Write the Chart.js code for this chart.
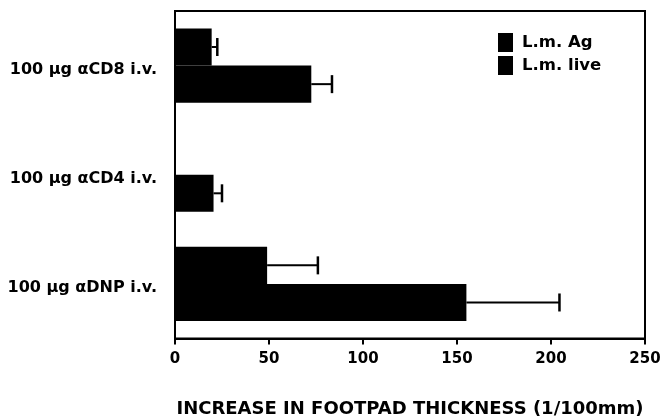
<!DOCTYPE html>
<html>
<head>
<meta charset="utf-8">
<script src="https://cdn.jsdelivr.net/npm/chart.js@4"></script>
<style>
  html, body { margin: 0; padding: 0; background: #fff; }
  canvas { display: block; }
</style>
</head>
<body>
<canvas id="c" width="663" height="418"></canvas>
<script>
const categories = ['100 \u03bcg \u03b1CD8 i.v.', '100 \u03bcg \u03b1CD4 i.v.', '100 \u03bcg \u03b1DNP i.v.'];
const seriesNames = ['L.m. Ag', 'L.m. live'];
const agValues = [19.5, 0, 49];
const agErrors = [3, 0, 27];
const liveValues = [72.5, 20.5, 155];
const liveErrors = [11, 4.5, 49.5];
const xMin = 0, xMax = 250, xStep = 50;
const axisTitle = 'INCREASE IN FOOTPAD THICKNESS (1/100mm)';

const errors = [agErrors, liveErrors];
const FONT = "'DejaVu Sans', sans-serif";

const errorBars = {
  id: 'errorBars',
  afterDatasetsDraw(chart) {
    const ctx = chart.ctx;
    const xs = chart.scales.x;
    ctx.save();
    ctx.strokeStyle = '#000';
    chart.data.datasets.forEach((ds, i) => {
      const meta = chart.getDatasetMeta(i);
      meta.data.forEach((bar, j) => {
        const e = errors[i][j];
        if (!e) return;
        const v = ds.data[j];
        const x0 = xs.getPixelForValue(v);
        const x1 = xs.getPixelForValue(v + e);
        const y = bar.y;
        ctx.lineWidth = 2;
        ctx.beginPath();
        ctx.moveTo(x0, y);
        ctx.lineTo(x1, y);
        ctx.stroke();
        ctx.lineWidth = 2.5;
        ctx.beginPath();
        ctx.moveTo(x1, y - 9);
        ctx.lineTo(x1, y + 9);
        ctx.stroke();
      });
    });
    ctx.restore();
  }
};

const frame = {
  id: 'frame',
  afterDatasetsDraw(chart) {
    const a = chart.chartArea;
    const ctx = chart.ctx;
    ctx.save();
    ctx.strokeStyle = '#000';
    ctx.lineWidth = 2;
    ctx.strokeRect(a.left, a.top, a.right - a.left, a.bottom - a.top);
    ctx.restore();
  }
};

const boxLegend = {
  id: 'boxLegend',
  afterDraw(chart) {
    const a = chart.chartArea;
    const ctx = chart.ctx;
    ctx.save();
    ctx.font = 'bold 16.5px ' + FONT;
    ctx.textBaseline = 'middle';
    ctx.textAlign = 'left';
    chart.data.datasets.forEach((ds, i) => {
      const y = a.top + 22 + i * 23;
      ctx.fillStyle = ds.backgroundColor;
      ctx.fillRect(a.right - 147, y, 15, 19);
      ctx.fillStyle = '#000';
      ctx.fillText(ds.label, a.right - 123, y + 10);
    });
    ctx.restore();
  }
};

new Chart(document.getElementById('c'), {
  type: 'bar',
  data: {
    labels: categories,
    datasets: [
      { label: seriesNames[0], data: agValues, backgroundColor: '#000', borderWidth: 0 },
      { label: seriesNames[1], data: liveValues, backgroundColor: '#000', borderWidth: 0 }
    ]
  },
  options: {
    indexAxis: 'y',
    responsive: false,
    animation: false,
    categoryPercentage: 0.68,
    barPercentage: 1.0,
    layout: { padding: { top: 11, right: 18, left: 0, bottom: 0 } },
    plugins: {
      legend: { display: false },
      tooltip: { enabled: false }
    },
    scales: {
      y: {
        grid: { display: false, drawTicks: false },
        border: { display: true, color: '#000', width: 2 },
        ticks: { color: '#000', padding: 18, labelOffset: 4, font: { family: FONT, size: 16, weight: 'bold' } },
        afterFit(s) { s.width = 175; s.paddingTop = 0; s.paddingBottom = 0; s.paddingLeft = 0; s.paddingRight = 0; }
      },
      x: {
        min: xMin, max: xMax,
        grid: { display: true, drawOnChartArea: false, drawTicks: true, tickLength: 6, color: '#000', lineWidth: 2 },
        border: { display: true, color: '#000', width: 2 },
        ticks: { stepSize: xStep, color: '#000', padding: 6, maxRotation: 0, font: { family: FONT, size: 15, weight: 'bold' } },
        title: { display: true, text: axisTitle, color: '#000', padding: { top: 26, bottom: -2 }, font: { family: FONT, size: 18, weight: 'bold' } },
        afterFit(s) { s.height = 79.5; s.paddingTop = 0; s.paddingBottom = 0; s.paddingLeft = 0; s.paddingRight = 0; }
      }
    }
  },
  plugins: [errorBars, frame, boxLegend]
});
</script>
</body>
</html>
